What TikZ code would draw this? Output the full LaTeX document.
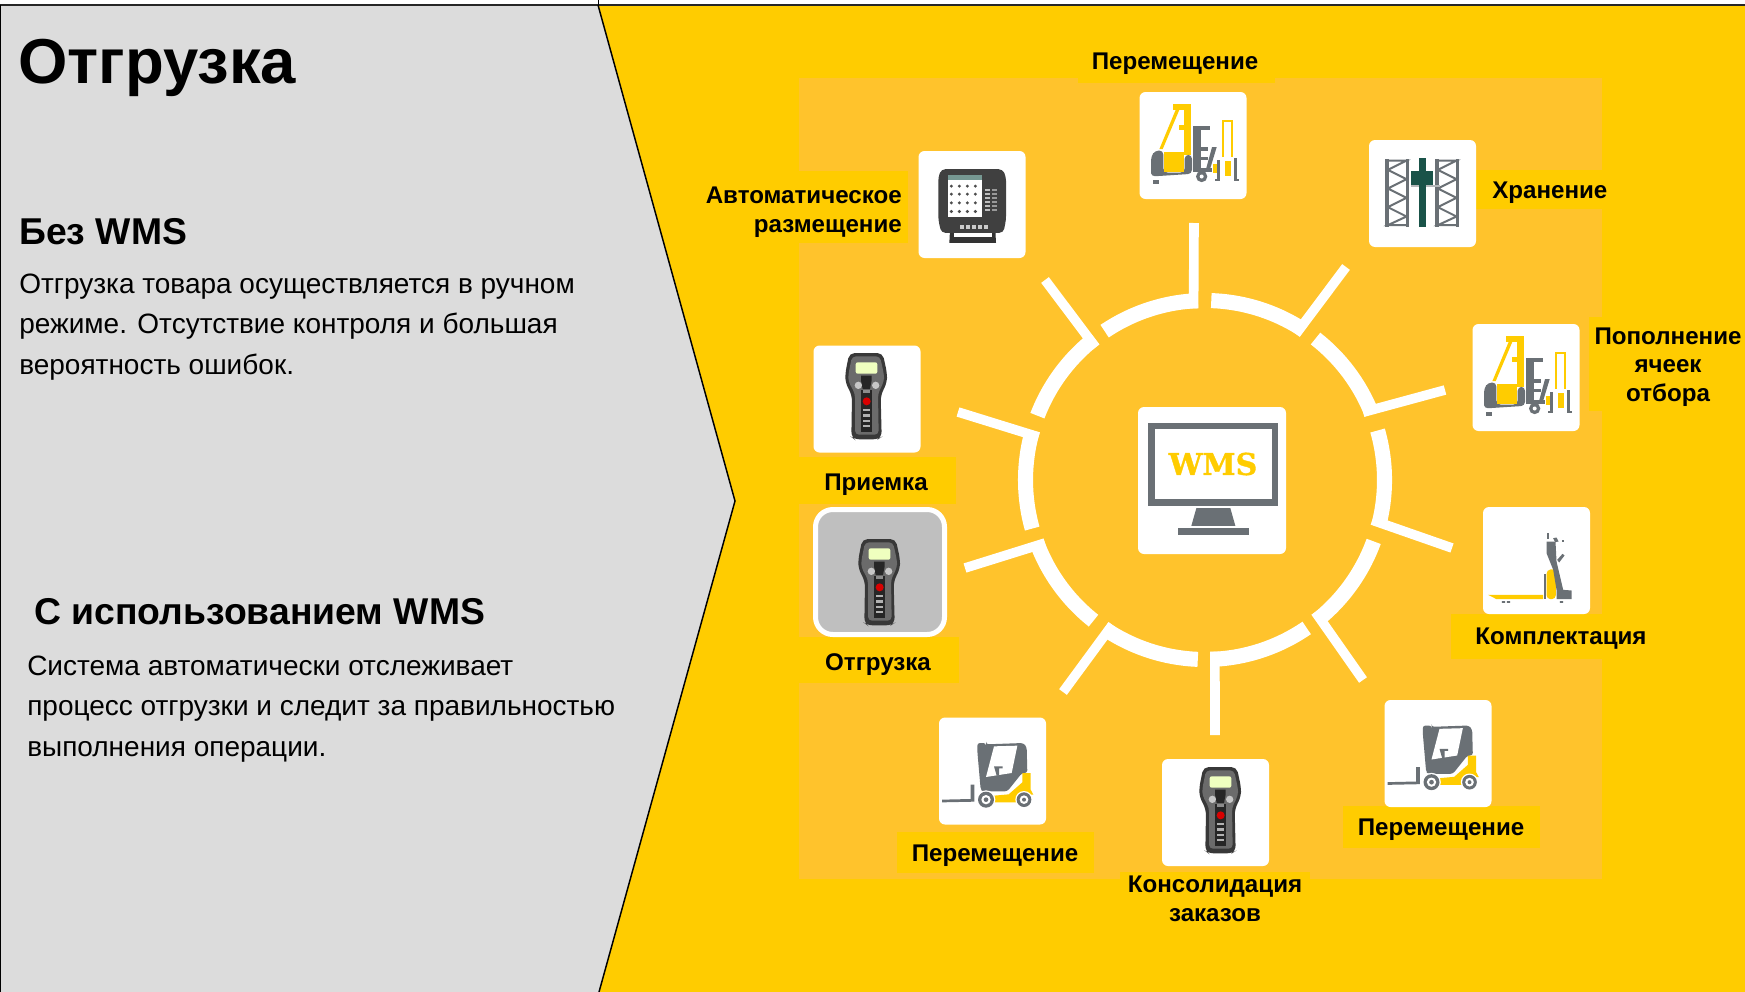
\documentclass[tikz,border=0pt]{standalone}
\usepackage{fontspec}
\setmainfont{Liberation Sans}
\newfontfamily\slabfont[BoldFont={DejaVu Serif Bold},BoldFeatures={FakeBold=1.2}]{DejaVu Serif}
\usetikzlibrary{calc}
\definecolor{sun}{HTML}{FFCC00}
\definecolor{sunlight}{HTML}{FFC32C}
\definecolor{panelgray}{HTML}{DCDCDC}
\definecolor{selgray}{HTML}{BFBFBF}
\definecolor{icongray}{HTML}{6A7075}
\definecolor{teal}{HTML}{1A5349}
\tikzset{
  x=0.75pt,y=-0.75pt,
  iconbox/.style={fill=white,rounded corners=4.5pt,minimum width=80.25pt,minimum height=80.25pt,inner sep=0pt,outer sep=0pt},
  lbl/.style={font=\bfseries\fontsize{18.1}{21.4}\selectfont,text=black,inner sep=0pt,align=center},
  bodytext/.style={font=\fontsize{21}{30.5}\selectfont,text=black,inner sep=0pt,align=left,anchor=west},
  headtext/.style={font=\bfseries\fontsize{28}{32}\selectfont,text=black,inner sep=0pt,anchor=base west},
  ringarc/.style={draw=white,line width=11.3pt,line cap=butt},
  ringspoke/.style={draw=white,line width=7.2pt,line cap=butt},
}
% one ring segment: start angle, end angle (clockwise), spoke tip
\newcommand{\RingSeg}[3]{%
  \pgfmathsetmacro{\sA}{-(#1)}\pgfmathsetmacro{\eA}{-(#2)}\pgfmathsetmacro{\rA}{-(#2+1.5)}%
  \draw[ringarc] ($(hub)+(\sA:179.5)$) arc[start angle=\sA,end angle=\eA,radius=179.5];
  \draw[ringspoke] #3 -- ($(hub)+(\rA:172)$);
}
\newcommand{\IconHand}[1]{%
\begin{scope}[shift={#1},scale=1/3,shift={(-228,-169)}]
  \fill[black!78,rounded corners=4pt] (178,40) -- (278,40) -- (291,100) -- (291,128) -- (272,168) -- (275,292) -- (264,299) -- (193,299) -- (184,292) -- (186,168) -- (166,128) -- (166,100) -- cycle;
  \fill[black!58,rounded corners=3pt] (186,50) -- (270,50) -- (282,105) -- (282,125) -- (264,162) -- (266,285) -- (195,285) -- (195,162) -- (175,125) -- (175,105) -- cycle;
  \fill[black!85] (213,108) -- (245,108) -- (245,122) -- (240,148) -- (218,148) -- (213,122) -- cycle;
  \fill[black!85] (214,150) rectangle (246,276);
  \fill[green!25!yellow!25!white,rounded corners=1.5pt] (197,68) rectangle (262,102);
  \fill[black!22] (205,137) circle[radius=11] (257,137) circle[radius=11];
  \fill[red!85!black] (230,185) circle[radius=12];
  \foreach \yy in {208,224,240,256}{\fill[black!30] (219,\yy) rectangle (240,\yy+7);}
  \fill[black!45] (219,152) rectangle (240,160);
\end{scope}}
\newcommand{\IconReach}[1]{%
\begin{scope}[shift={#1},scale=1/3,shift={(-1239,-317)}]
  \fill[sun] (1180,192) rectangle (1233,210);
  \fill[sun] (1213,192) rectangle (1233,345);
  \fill[sun] (1138,328) -- (1187,210) -- (1198,210) -- (1148,328) -- cycle;
  \fill[sun] (1198,254) rectangle (1213,270);
  \fill[icongray,rounded corners=3pt] (1113,410) -- (1113,350) -- (1125,332) -- (1150,332) -- (1150,398) -- (1214,398) -- (1214,345) -- (1236,345) -- (1236,402) -- (1113,410) -- cycle;
  \fill[sun] (1152,336) rectangle (1212,396);
  \fill[icongray] (1118,420) rectangle (1138,431);
  \fill[icongray] (1240,258) rectangle (1264,396);
  \fill[icongray] (1240,258) rectangle (1290,270);
  \fill[icongray] (1264,322) rectangle (1285,334);
  \fill[icongray] (1264,350) rectangle (1285,360);
  \fill[icongray] (1264,385) rectangle (1296,396);
  \fill[icongray] (1296,322) -- (1310,322) -- (1290,388) -- (1278,388) -- cycle;
  \fill[icongray] (1265,410) circle[radius=17];
  \fill[white] (1265,410) circle[radius=6];
  \draw[sun,line width=1.6pt] (1328,352) -- (1328,243) -- (1355,243) -- (1355,352);
  \fill[sun] (1300,372) rectangle (1312,398);
  \fill[sun] (1335,362) rectangle (1354,408);
  \fill[icongray] (1312,360) rectangle (1320,424);
  \fill[icongray] (1306,416) rectangle (1320,424);
  \fill[icongray] (1362,355) rectangle (1370,424);
  \fill[icongray] (1362,416) rectangle (1378,424);
\end{scope}}
\newcommand{\IconFork}[1]{%
\begin{scope}[shift={#1},scale=1/3,shift={(-277.5,-244)}]
  \fill[icongray] (126,330) -- (212,328) -- (212,285) -- (223,285) -- (223,336) -- (126,338) -- cycle;
  \fill[icongray,rounded corners=2pt] (232,160) -- (258,160) -- (258,164) -- (370,160) -- (380,172) -- (382,250) -- (366,250) -- (322,305) -- (250,305) -- (242,300) -- (232,185) -- cycle;
  \fill[white] (282,170) -- (352,168) -- (335,250) -- (258,262) -- cycle;
  \fill[icongray] (282,230) -- (308,230) -- (308,236) -- (297,236) -- (297,258) -- (290,258) -- cycle;
  \fill[sun] (282,318) -- (326,314) -- (367,278) -- (367,250) -- (392,250) -- (392,300) -- (400,315) -- (390,315) -- (352,338) -- (280,338) -- cycle;
  \fill[white] (258,330) circle[radius=28] (372,330) circle[radius=26];
  \fill[icongray] (258,330) circle[radius=24] (372,330) circle[radius=22];
  \fill[white] (258,330) circle[radius=14] (372,330) circle[radius=13];
  \fill[icongray] (258,330) circle[radius=7] (372,330) circle[radius=6];
\end{scope}}
\newcommand{\IconPick}[1]{%
\begin{scope}[shift={#1},scale=1/3,shift={(-590,-212)}]
  \fill[sun] (445,315) -- (610,315) -- (610,328) -- (470,328) -- cycle;
  \fill[sun,rounded corners=3pt] (620,328) -- (620,240) -- (648,237) -- (648,328) -- cycle;
  \fill[icongray] (612,253) rectangle (617,328);
  \fill[icongray] (620,155) -- (647,155) -- (650,215) -- (670,300) -- (695,302) -- (695,328) -- (650,328) -- (650,300) -- (640,240) -- (620,190) -- cycle;
  \fill[icongray] (652,210) -- (668,192) -- (674,197) -- (658,218) -- cycle;
  \fill[icongray] (622,130) rectangle (628,146);
  \fill[icongray] (640,145) -- (650,143) -- (656,155) -- (646,157) -- cycle;
  \fill[icongray] (665,150) rectangle (671,156);
  \fill[icongray] (486,334) rectangle (496,339) (501,334) rectangle (511,339) (660,334) rectangle (670,339);
\end{scope}}
\newcommand{\IconRack}[1]{%
\begin{scope}[shift={#1},scale=1/3,shift={(-247,-221)}]
  \foreach \xa in {135,285}{
    \fill[icongray] (\xa,118) rectangle (\xa+10,320);
    \fill[icongray] (\xa+61,118) rectangle (\xa+71,320);
    \draw[icongray,line width=1.5pt] (\xa+8,122) -- (\xa+64,122) -- (\xa+8,150) -- (\xa+64,178) -- (\xa+8,206) -- (\xa+64,234) -- (\xa+8,262) -- (\xa+64,290) -- (\xa+8,316) -- (\xa+64,316);
  }
  \fill[icongray!50] (213,196) rectangle (300,200);
  \fill[teal] (235,113) rectangle (257,320);
  \fill[teal] (213,152) rectangle (277,195);
\end{scope}}
\newcommand{\IconTerm}[1]{%
\begin{scope}[shift={#1},scale=1/3,shift={(-576,-493)}]
  \fill[black!80] (510,570) -- (508,608) -- (648,608) -- (646,570) -- cycle;
  \fill[white] (522,578) rectangle (636,590);
  \fill[black!75,rounded corners=3pt] (484,387) -- (668,387) -- (678,410) -- (678,540) -- (670,578) -- (484,578) -- (475,540) -- (475,410) -- cycle;
  \fill[white] (503,405) rectangle (607,530);
  \fill[teal!60] (503,405) rectangle (607,418);
  \foreach \yy in {438,462,488,514}{\foreach \xx in {514,538,562,586}{\fill[black!70] (\xx,\yy) circle[radius=5];}}
  \foreach \yy in {445,457,469,481,493,505}{\fill[black!25] (616,\yy) rectangle (630,\yy+8);\fill[black!40] (636,\yy) rectangle (650,\yy+8);}
  \foreach \xx in {540,558,576,594,612}{\fill[black!20] (\xx,554) rectangle (\xx+12,566);}
\end{scope}}
\newcommand{\IconScreen}[1]{%
\begin{scope}[shift={#1},scale=1/3,shift={(-245,-242)}]
  \fill[icongray] (54,68) rectangle (444,318);
  \fill[white] (74,88) rectangle (426,298);
  \fill[icongray] (198,325) -- (300,325) -- (315,378) -- (183,378) -- cycle;
  \fill[icongray] (142,384) rectangle (357,405);
\end{scope}}
\begin{document}
\begin{tikzpicture}
\useasboundingbox (0,0) rectangle (1745,992);
\fill[white] (0,0) rectangle (1745,992);
\fill[sun] (598,5) rectangle (1745,992);
\fill[panelgray] (0,5) -- (598,5) -- (735,501) -- (599,992) -- (0,992) -- cycle;
\draw[black!85,line width=1.5pt] (0,5) -- (1745,5);
\draw[black,line width=0.6pt] (0.5,5) -- (0.5,992);
\draw[black,line width=0.6pt] (598,0) -- (598,5);
\draw[black,line width=1.1pt] (598,5) -- (735,501) -- (599,992);
% light square and label patches
\fill[sunlight] (799,78) rectangle (1602,879);
\fill[sun] (1078,60) rectangle (1275,83);
\fill[sun] (780,171) rectangle (908,243);
\fill[sun] (1476,170) rectangle (1620,209);
\fill[sun] (1589,317) rectangle (1700,411);
\fill[sun] (1451,614) rectangle (1610,659);
\fill[sun] (1343,806) rectangle (1540,848);
\fill[sun] (897,832) rectangle (1094,873);
\fill[sun] (1120,872) rectangle (1310,900);
\fill[sun] (795,457) rectangle (956,504);
\fill[sun] (795,637) rectangle (959,683);
% ring
\coordinate (hub) at (1205,480);
\RingSeg{124}{92.3}{(1194,223)}
\RingSeg{88}{56.6}{(1346,267)}
\RingSeg{52}{21.7}{(1445,390)}
\RingSeg{16}{-15}{(1452,548)}
\RingSeg{-20}{-51.6}{(1363,680)}
\RingSeg{-55.5}{-88.2}{(1215,735)}
\RingSeg{267.7}{235.9}{(1063,692)}
\RingSeg{231.6}{200}{(965,568)}
\RingSeg{195.7}{164}{(958,412)}
\RingSeg{159}{128}{(1045,280)}
% icon boxes
\node[iconbox] (nTop) at (1193,145.5) {};
\node[iconbox] (nAuto) at (972,204.5) {};
\node[iconbox] (nRack) at (1422.5,193.5) {};
\node[iconbox] (nRepl) at (1526,377.5) {};
\node[iconbox] (nPick) at (1536.5,560.5) {};
\node[iconbox] (nMoveR) at (1438,753.5) {};
\node[iconbox] (nCons) at (1215.5,812.5) {};
\node[iconbox] (nMoveL) at (992.5,771) {};
\node[iconbox] (nRecv) at (867,399) {};
\node[fill=selgray,draw=white,line width=3.75pt,rounded corners=13pt,inner sep=0pt,minimum width=96.75pt,minimum height=93.75pt] (nShip) at (880,572) {};
\node[iconbox,minimum width=111pt,minimum height=110.25pt] (nWms) at (1212,480.5) {};
\IconReach{(nTop.center)}
\IconReach{(nRepl.center)}
\IconTerm{(nAuto.center)}
\IconRack{(nRack.center)}
\IconPick{(nPick.center)}
\IconFork{(nMoveR.center)}
\IconFork{(nMoveL.center)}
\IconHand{(866,396)}
\IconHand{(879,582)}
\IconHand{(1220,810)}
\IconScreen{(nWms.center)}
\node[font=\slabfont\bfseries\fontsize{22.5}{24}\selectfont,text=sun,inner sep=0pt] (tWms) at (1213,464) {WMS};
% labels
\node[lbl,anchor=base] (lTop) at (1175,69) {Перемещение};
\node[lbl,anchor=east,align=right] (lAuto) at (902,212) {Автоматическое\\размещение};
\node[lbl,anchor=base west] (lRack) at (1492,198) {Хранение};
\node[lbl] (lRepl) at (1668,367) {Пополнение\\ячеек\\отбора};
\node[lbl,anchor=base] (lPick) at (1561,644) {Комплектация};
\node[lbl,anchor=base] (lMoveR) at (1441,835) {Перемещение};
\node[lbl,anchor=base] (lMoveL) at (995,861) {Перемещение};
\node[lbl] (lCons) at (1215,899) {Консолидация\\заказов};
\node[lbl,anchor=base] (lRecv) at (876,490) {Приемка};
\node[lbl,anchor=base] (lShip) at (878,670) {Отгрузка};
% left panel
\node[font=\bfseries\fontsize{47.6}{52}\selectfont,inner sep=0pt,anchor=base west] (tTitle) at (18,83) {Отгрузка};
\node[headtext] (tNo) at (19,244) {Без WMS};
\node[bodytext] (tNoBody) at (19,327) {Отгрузка товара осуществляется в ручном\\режиме. Отсутствие контроля и большая\\вероятность ошибок.};
\node[headtext] (tWith) at (34,624) {С использованием WMS};
\node[bodytext] (tWithBody) at (27,709) {Система автоматически отслеживает\\процесс отгрузки и следит за правильностью\\выполнения операции.};
\end{tikzpicture}
\end{document}
